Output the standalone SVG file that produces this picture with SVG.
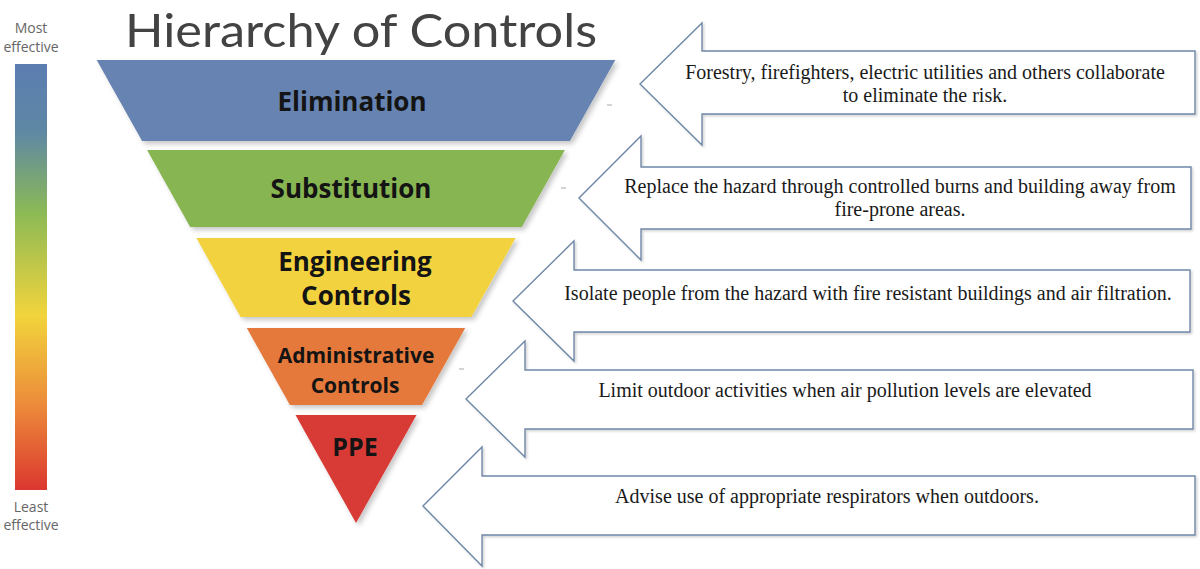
<svg xmlns="http://www.w3.org/2000/svg" width="1200" height="569" viewBox="0 0 1200 569">
  <defs>
    <linearGradient id="scale" x1="0" y1="0" x2="0" y2="1">
      <stop offset="0" stop-color="#5b7db1"/>
      <stop offset="0.16" stop-color="#5f88a4"/>
      <stop offset="0.35" stop-color="#8cba55"/>
      <stop offset="0.59" stop-color="#f2d43c"/>
      <stop offset="0.8" stop-color="#ec8b3a"/>
      <stop offset="1" stop-color="#db372f"/>
    </linearGradient>
    <filter id="shTrap" x="-10%" y="-10%" width="125%" height="130%">
      <feDropShadow dx="3" dy="3" stdDeviation="2.5" flood-color="#000" flood-opacity="0.22"/>
    </filter>
    <filter id="shArrow" x="-5%" y="-10%" width="110%" height="125%">
      <feDropShadow dx="1.5" dy="1.5" stdDeviation="1" flood-color="#000" flood-opacity="0.18"/>
    </filter>
  </defs>
  <style>
    .title { font-family: Lato, "Open Sans", "Liberation Sans", sans-serif; font-weight: 400; font-size: 47px; fill: #434343; }
    .scale-lbl { font-family: "Open Sans", "Liberation Sans", sans-serif; font-size: 14px; fill: #666; text-anchor: middle; }
    .layer { filter: url(#shTrap); }
    .lbl { font-family: "Open Sans", "Liberation Sans", sans-serif; font-weight: 700; fill: #141414; text-anchor: middle; }
    .arrow { fill: #ffffff; stroke: #7088a8; stroke-width: 1.4; stroke-linejoin: miter; filter: url(#shArrow); }
    .txt { font-family: "Liberation Serif", "Times New Roman", serif; font-size: 20px; fill: #1a1a1a; text-anchor: middle; }
    .dash { stroke: #b8b8b8; stroke-width: 1.2; }
  </style>

  <rect width="1200" height="569" fill="#ffffff"/>

  <g id="title">
    <text class="title" x="125" y="47" textLength="472" lengthAdjust="spacingAndGlyphs">Hierarchy of Controls</text>
  </g>

  <g id="effectiveness-scale">
    <text class="scale-lbl" x="31" y="33">Most</text>
    <text class="scale-lbl" x="31" y="52">effective</text>
    <rect x="15" y="64" width="32" height="426" fill="url(#scale)"/>
    <text class="scale-lbl" x="31" y="512">Least</text>
    <text class="scale-lbl" x="31" y="530">effective</text>
  </g>

  <g id="elimination">
    <polygon class="layer" points="96.7,60 615.3,60 569.9,141 142.1,141" fill="#6683b1"/>
    <text class="lbl" x="352" y="111" font-size="26">Elimination</text>
  </g>
  <g id="substitution">
    <polygon class="layer" points="147.1,150 564.9,150 521.8,227 190.2,227" fill="#87b551"/>
    <text class="lbl" x="351" y="198" font-size="26">Substitution</text>
  </g>
  <g id="engineering-controls">
    <polygon class="layer" points="196.4,238 515.6,238 471.4,317 240.6,317" fill="#f3d240"/>
    <text class="lbl" x="355" y="271" font-size="26">Engineering</text>
    <text class="lbl" x="356" y="305" font-size="26">Controls</text>
  </g>
  <g id="administrative-controls">
    <polygon class="layer" points="246.8,328 465.2,328 422.1,405 289.9,405" fill="#e4793a"/>
    <text class="lbl" x="356" y="363" font-size="21">Administrative</text>
    <text class="lbl" x="355" y="393" font-size="21">Controls</text>
  </g>
  <g id="ppe">
    <polygon class="layer" points="295.5,415 416.5,415 356,523" fill="#d83b36"/>
    <text class="lbl" x="355" y="456" font-size="25">PPE</text>
  </g>

  <g id="marks">
    <line class="dash" x1="607" y1="105" x2="612" y2="105"/>
    <line class="dash" x1="561" y1="188" x2="566" y2="188"/>
    <line class="dash" x1="459" y1="369" x2="464" y2="369"/>
  </g>

  <g id="connectors"></g>

  <g id="callout-elimination">
    <path class="arrow" d="M640,84 L702,23 L702,51 L1195,51 L1195,114 L702,114 L702,145 Z"/>
    <text class="txt" x="925" y="79">Forestry, firefighters, electric utilities and others collaborate</text>
    <text class="txt" x="925" y="102">to eliminate the risk.</text>
  </g>
  <g id="callout-substitution">
    <path class="arrow" d="M579,198 L641,136 L641,167 L1191,167 L1191,229 L641,229 L641,260 Z"/>
    <text class="txt" x="900" y="193">Replace the hazard through controlled burns and building away from</text>
    <text class="txt" x="900" y="216">fire-prone areas.</text>
  </g>
  <g id="callout-engineering">
    <path class="arrow" d="M513,301 L574,241 L574,270 L1190,270 L1190,332 L574,332 L574,361 Z"/>
    <text class="txt" x="868" y="300">Isolate people from the hazard with fire resistant buildings and air filtration.</text>
  </g>
  <g id="callout-administrative">
    <path class="arrow" d="M466,399 L525,341 L525,370 L1193,370 L1193,429 L525,429 L525,457 Z"/>
    <text class="txt" x="845" y="397">Limit outdoor activities when air pollution levels are elevated</text>
  </g>
  <g id="callout-ppe">
    <path class="arrow" d="M423,506 L482,447 L482,476 L1195,476 L1195,535 L482,535 L482,566 Z"/>
    <text class="txt" x="827" y="503">Advise use of appropriate respirators when outdoors.</text>
  </g>
</svg>
